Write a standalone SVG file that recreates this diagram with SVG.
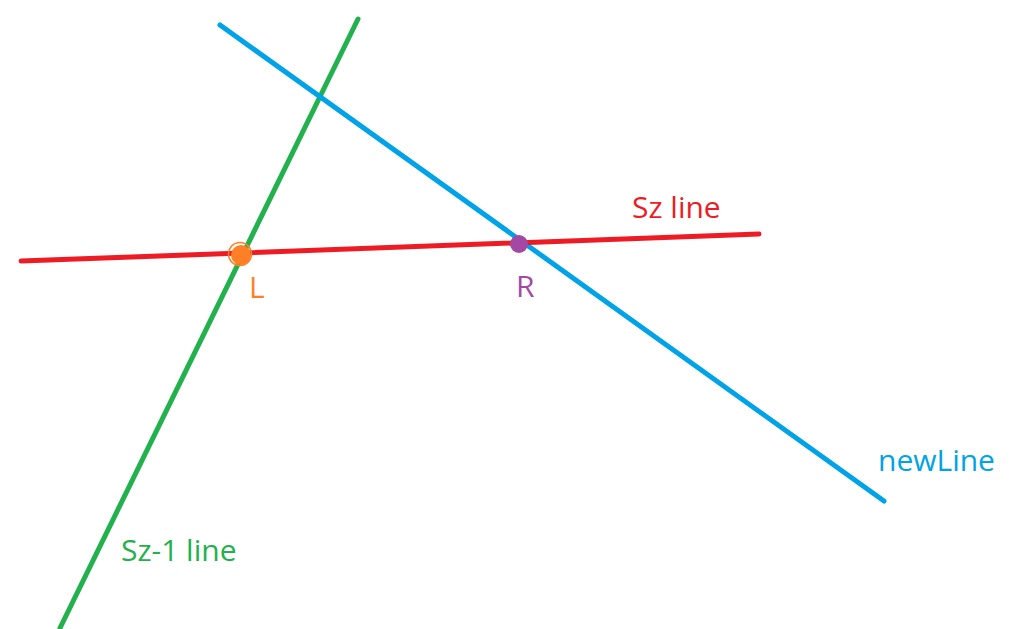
<svg xmlns="http://www.w3.org/2000/svg" width="1032" height="629" viewBox="0 0 1032 629">
<style>
.ln{fill:none;stroke-width:5;stroke-linecap:round}
.t{font-family:"Open Sans","Noto Sans",sans-serif;font-size:30px}
</style>
<rect width="1032" height="629" fill="#fff"/>
<g id="connectors">
<line class="ln" x1="358" y1="19" x2="60" y2="628" stroke="#22B14C"/>
<line class="ln" x1="220" y1="25" x2="884" y2="501" stroke="#00A2E8"/>
<line class="ln" x1="21" y1="261" x2="759" y2="234" stroke="#ED1C24"/>
</g>
<g id="L">
<circle cx="241" cy="255" r="10" fill="#FF7F27"/>
<circle cx="240" cy="254" r="11.5" fill="none" stroke="#FF7F27" stroke-width="1.5"/>
<text class="t" x="249" y="298" fill="#FF7F27">L</text>
</g>
<g id="R">
<circle cx="519" cy="244" r="9" fill="#A349A4"/>
<text class="t" x="516" y="297" fill="#A349A4">R</text>
</g>
<g id="szline"><text class="t" x="632" y="218" fill="#ED1C24">Sz line</text></g>
<g id="newline"><text class="t" x="878" y="471" fill="#00A2E8">newLine</text></g>
<g id="sz1line"><text class="t" x="121" y="561" fill="#22B14C">Sz-1 line</text></g>
</svg>
